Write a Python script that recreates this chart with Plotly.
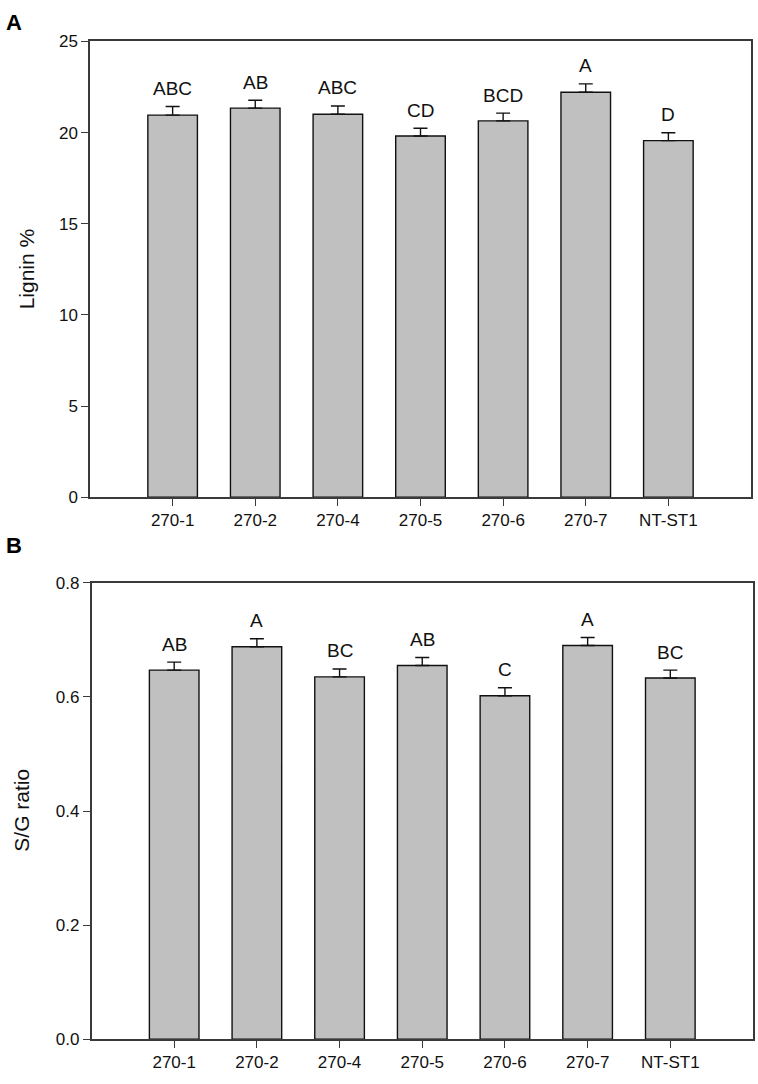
import plotly.graph_objects as go
from plotly.subplots import make_subplots

categories = ["270-1", "270-2", "270-4", "270-5", "270-6", "270-7", "NT-ST1"]

lignin_mean = [20.96, 21.34, 21.01, 19.81, 20.64, 22.21, 19.56]
lignin_err = [0.47, 0.43, 0.45, 0.43, 0.43, 0.46, 0.43]
lignin_letters = ["ABC", "AB", "ABC", "CD", "BCD", "A", "D"]

sg_mean = [0.647, 0.688, 0.635, 0.655, 0.602, 0.690, 0.633]
sg_err = [0.014, 0.014, 0.014, 0.014, 0.014, 0.014, 0.014]
sg_letters = ["AB", "A", "BC", "AB", "C", "A", "BC"]

W, H = 758, 1084
FONT = "Liberation Sans, Arial, sans-serif"
AXC = "#3a3a3a"
INK = "#111111"

fig = make_subplots(rows=2, cols=1)

x_idx = list(range(len(categories)))

for row, mean, err in [(1, lignin_mean, lignin_err), (2, sg_mean, sg_err)]:
    fig.add_trace(go.Bar(
        x=x_idx, y=mean, width=0.6,
        marker=dict(color="#c0c0c0", line=dict(color=INK, width=1.4)),
        error_y=dict(type="data", symmetric=False, array=err,
                     arrayminus=[0] * len(err), color=INK,
                     thickness=1.4, width=7),
        showlegend=False, hoverinfo="skip",
    ), row=row, col=1)

fig.update_layout(
    width=W, height=H,
    margin=dict(l=0, r=0, t=0, b=0),
    paper_bgcolor="white", plot_bgcolor="white",
    font=dict(family=FONT, size=17, color=INK),
    xaxis=dict(domain=[90 / W, 751 / W], anchor="y"),
    yaxis=dict(domain=[1 - 497 / H, 1 - 33 / H], anchor="x"),
    xaxis2=dict(domain=[91.5 / W, 753 / W], anchor="y2"),
    yaxis2=dict(domain=[1 - 1048.7 / H, 1 - 584 / H], anchor="x2"),
)

axis_common = dict(showline=True, linecolor=AXC, linewidth=1.5, mirror=True,
                   showgrid=False, zeroline=False, ticks="outside",
                   ticklen=7, tickwidth=1.3, tickcolor=AXC,
                   tickfont=dict(family=FONT, size=17, color=INK))

for r in (1, 2):
    fig.update_xaxes(range=[-1, 7], tickvals=x_idx, ticktext=categories,
                     **axis_common, row=r, col=1)

fig.update_yaxes(range=[0, 25], tickvals=[0, 5, 10, 15, 20, 25],
                 **axis_common, row=1, col=1)
fig.update_yaxes(range=[0, 0.8], tickvals=[0, 0.2, 0.4, 0.6, 0.8],
                 tickformat=".1f", **axis_common, row=2, col=1)

# significance letters above the error bars
for i, (m, e, t) in enumerate(zip(lignin_mean, lignin_err, lignin_letters)):
    fig.add_annotation(x=i, y=m + e, text=t, showarrow=False, xref="x", yref="y",
                       yanchor="middle", yshift=18,
                       font=dict(family=FONT, size=19, color=INK))
for i, (m, e, t) in enumerate(zip(sg_mean, sg_err, sg_letters)):
    fig.add_annotation(x=i, y=m + e, text=t, showarrow=False, xref="x2", yref="y2",
                       yanchor="middle", yshift=18,
                       font=dict(family=FONT, size=19, color=INK))

# y-axis titles
fig.add_annotation(x=26 / W, y=1 - 265 / H, xref="paper", yref="paper",
                   text="Lignin %", textangle=-90, showarrow=False,
                   xanchor="center", yanchor="middle",
                   font=dict(family=FONT, size=21, color=INK))
fig.add_annotation(x=22 / W, y=1 - 816 / H, xref="paper", yref="paper",
                   text="S/G ratio", textangle=-90, showarrow=False,
                   xanchor="center", yanchor="middle",
                   font=dict(family=FONT, size=21, color=INK))

# panel labels
fig.add_annotation(x=14 / W, y=1 - 14 / H, xref="paper", yref="paper",
                   text="<b>A</b>", showarrow=False, xanchor="center", yanchor="middle",
                   font=dict(family=FONT, size=22, color="#000000"))
fig.add_annotation(x=14 / W, y=1 - 546 / H, xref="paper", yref="paper",
                   text="<b>B</b>", showarrow=False, xanchor="center", yanchor="middle",
                   font=dict(family=FONT, size=22, color="#000000"))

fig.write_html(
    "out.html",
    config={"displayModeBar": False},
    post_script="document.body.style.margin='0px';document.body.style.overflow='hidden';",
)
